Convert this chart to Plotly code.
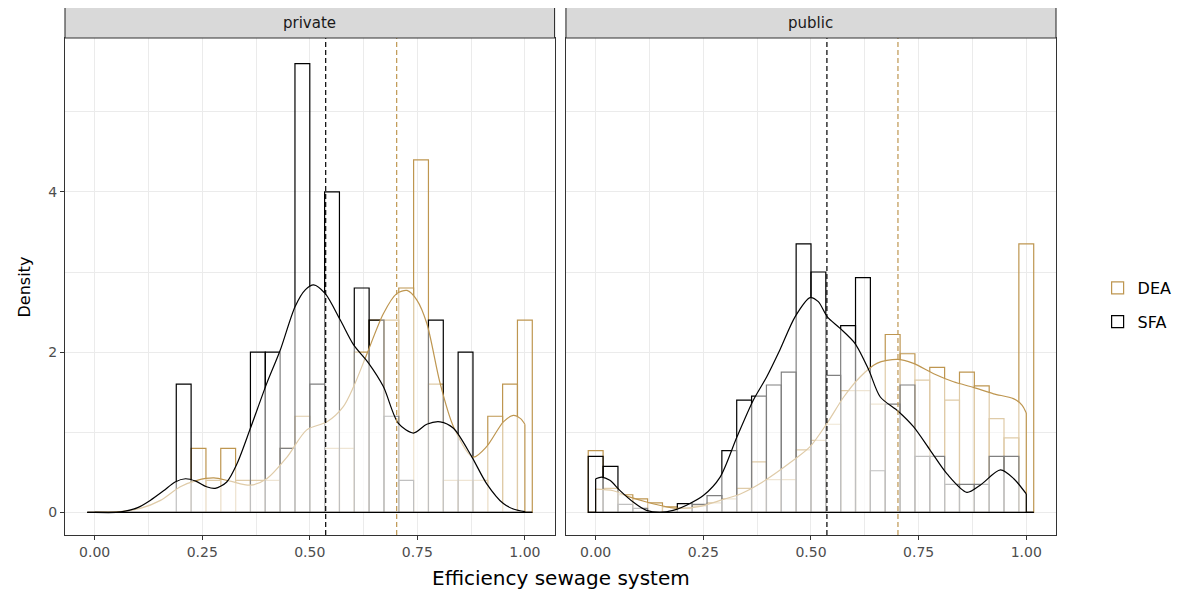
import plotly.graph_objects as go

# ---------------- data ----------------
bin_centers = [0.0, 0.0345, 0.069, 0.1034, 0.1379, 0.1724, 0.2069, 0.2414, 0.2759, 0.3103,
               0.3448, 0.3793, 0.4138, 0.4483, 0.4828, 0.5172, 0.5517, 0.5862, 0.6207, 0.6552,
               0.6897, 0.7241, 0.7586, 0.7931, 0.8276, 0.8621, 0.8966, 0.931, 0.9655, 1.0]
bin_width = 0.0345

private_sfa = [0, 0, 0, 0, 0, 0, 1.6, 0, 0, 0,
               0, 2.0, 2.0, 0.8, 5.6, 1.6, 4.0, 0, 2.8, 2.4,
               1.2, 0.4, 0, 2.4, 0, 2.0, 0, 0, 0, 0]
private_dea = [0, 0, 0, 0, 0, 0, 0, 0.8, 0.4, 0.8,
               0.4, 0.4, 0.4, 0.8, 1.2, 0, 0.8, 0.8, 2.0, 2.4,
               2.4, 2.8, 4.4, 1.6, 0.4, 0.4, 0.4, 1.2, 1.6, 2.4]
public_sfa = [0.70, 0.575, 0.1, 0.05, 0, 0, 0.11, 0.1, 0.21, 0.77,
              1.4, 1.45, 1.59, 1.75, 3.35, 3.0, 1.71, 2.33, 2.93, 0.52,
              1.35, 1.59, 0.7, 0.7, 0.35, 0.35, 0.35, 0.7, 0.7, 0]
public_dea = [0.77, 0.3, 0.22, 0.17, 0.12, 0.07, 0.05, 0.08, 0.12, 0.17,
              0.3, 0.63, 0.41, 0.41, 0.78, 0.9, 1.1, 1.52, 1.52, 1.35,
              2.22, 1.98, 1.65, 1.81, 1.4, 1.75, 1.58, 1.17, 0.93, 3.35]

# kernel density curves
private_sfa_kde_x = [0.0, 0.05, 0.071, 0.1, 0.129, 0.16, 0.187, 0.211, 0.235, 0.26, 0.28, 0.307, 0.331,
                     0.362, 0.40, 0.431, 0.466, 0.49, 0.509, 0.536, 0.571, 0.602, 0.637, 0.671, 0.706,
                     0.741, 0.772, 0.803, 0.834, 0.877, 0.911, 0.95, 0.975, 1.0]
private_sfa_kde_y = [0.0, 0.0, 0.016, 0.06, 0.15, 0.27, 0.38, 0.42, 0.39, 0.32, 0.30, 0.38, 0.61,
                     1.05, 1.61, 2.02, 2.57, 2.78, 2.84, 2.73, 2.40, 2.09, 1.86, 1.57, 1.11,
                     0.99, 1.10, 1.13, 1.05, 0.69, 0.36, 0.11, 0.04, 0.01]
private_dea_kde_x = [0.0, 0.05, 0.106, 0.153, 0.199, 0.238, 0.277, 0.315, 0.362, 0.40, 0.447, 0.493,
                     0.54, 0.578, 0.602, 0.633, 0.671, 0.702, 0.726, 0.749, 0.772, 0.803, 0.834,
                     0.88, 0.911, 0.95, 0.973, 0.99, 1.0]
private_dea_kde_y = [0.0, 0.005, 0.05, 0.15, 0.32, 0.40, 0.43, 0.39, 0.34, 0.42, 0.69, 1.03,
                     1.13, 1.32, 1.57, 1.98, 2.48, 2.73, 2.77, 2.65, 2.36, 1.61, 1.07,
                     0.69, 0.82, 1.13, 1.21, 1.17, 1.10]
public_sfa_kde_x = [0.0, 0.014, 0.033, 0.056, 0.087, 0.118, 0.149, 0.18, 0.211, 0.25, 0.289, 0.328,
                    0.366, 0.397, 0.428, 0.463, 0.498, 0.517, 0.538, 0.567, 0.602, 0.634, 0.661,
                    0.703, 0.738, 0.777, 0.816, 0.862, 0.893, 0.94, 0.971, 1.0]
public_sfa_kde_y = [0.42, 0.44, 0.40, 0.275, 0.13, 0.025, 0.0, 0.025, 0.09, 0.21, 0.44, 0.94,
                    1.40, 1.69, 2.03, 2.44, 2.68, 2.63, 2.44, 2.30, 2.11, 1.78, 1.44,
                    1.26, 1.07, 0.775, 0.48, 0.25, 0.34, 0.53, 0.42, 0.23]
public_dea_kde_x = [0.0, 0.041, 0.08, 0.118, 0.165, 0.196, 0.243, 0.289, 0.336, 0.382, 0.459, 0.498,
                    0.537, 0.576, 0.614, 0.653, 0.70, 0.738, 0.785, 0.831, 0.877, 0.924, 0.97, 0.99, 1.0]
public_dea_kde_y = [0.29, 0.27, 0.19, 0.13, 0.07, 0.05, 0.075, 0.15, 0.23, 0.36, 0.65, 0.82,
                    1.11, 1.44, 1.69, 1.86, 1.91, 1.86, 1.73, 1.63, 1.56, 1.48, 1.42, 1.34, 1.24]

mean_sfa = 0.537
mean_dea = 0.702

panels = ["private", "public"]
x_ticks = [0, 0.25, 0.5, 0.75, 1.0]
x_tick_labels = ["0.00", "0.25", "0.50", "0.75", "1.00"]
y_ticks = [0, 2, 4]

# ---------------- style ----------------
DEA_COL = "rgb(190,150,80)"
SFA_COL = "black"
VEIL = "rgba(255,255,255,0.5)"
FONT = "DejaVu Sans"

fig = go.Figure()

data = {
    "private": dict(sfa=private_sfa, dea=private_dea,
                    sk=(private_sfa_kde_x, private_sfa_kde_y), dk=(private_dea_kde_x, private_dea_kde_y)),
    "public": dict(sfa=public_sfa, dea=public_dea,
                   sk=(public_sfa_kde_x, public_sfa_kde_y), dk=(public_dea_kde_x, public_dea_kde_y)),
}

for i, p in enumerate(panels):
    xa = "x" if i == 0 else "x2"
    ya = "y" if i == 0 else "y2"
    d = data[p]
    for name, vals, col in [("DEA", d["dea"], DEA_COL), ("SFA", d["sfa"], SFA_COL)]:
        fig.add_trace(go.Bar(
            x=bin_centers, y=vals, width=bin_width, xaxis=xa, yaxis=ya,
            marker=dict(color="rgba(0,0,0,0)", line=dict(color=col, width=1.2)),
            name=name, legendgroup=name, showlegend=(i == 0), hoverinfo="skip",
        ))
    for name, (kx, ky), col in [("DEA", d["dk"], DEA_COL), ("SFA", d["sk"], SFA_COL)]:
        fig.add_trace(go.Scatter(
            x=kx, y=ky, xaxis=xa, yaxis=ya, mode="lines",
            line=dict(color=col, width=1.2, shape="spline", smoothing=0.8),
            fill="tozeroy", fillcolor=VEIL, showlegend=False, hoverinfo="skip",
        ))
        fig.add_trace(go.Scatter(
            x=[kx[0], kx[0], None, kx[-1], kx[-1]], y=[0, ky[0], None, ky[-1], 0],
            xaxis=xa, yaxis=ya, mode="lines", line=dict(color=col, width=1.2),
            showlegend=False, hoverinfo="skip",
        ))
    # zero baseline spanning the histogram bins
    fig.add_trace(go.Scatter(
        x=[bin_centers[0] - bin_width / 2, bin_centers[-1] + bin_width / 2], y=[0, 0],
        xaxis=xa, yaxis=ya, mode="lines", line=dict(color="black", width=1.2),
        showlegend=False, hoverinfo="skip",
    ))
    for m, col in [(mean_sfa, SFA_COL), (mean_dea, DEA_COL)]:
        fig.add_shape(type="line", xref=xa, yref=f"{ya} domain", x0=m, x1=m, y0=0, y1=1,
                      line=dict(color=col, width=1.2, dash="5px,3px"), layer="above")

doms = [[0.0, 0.494], [0.5055, 1.0]]
axis_common = dict(
    range=[-0.069, 1.069], tickvals=x_ticks, ticktext=x_tick_labels,
    showgrid=True, gridcolor="#EBEBEB", gridwidth=1.1,
    minor=dict(dtick=0.125, tick0=0, showgrid=True, gridcolor="#EBEBEB", gridwidth=0.6),
    showline=True, linecolor="#333333", linewidth=1.1, mirror=True,
    ticks="outside", ticklen=4, tickcolor="#333333", tickwidth=1,
    tickfont=dict(family=FONT, size=14, color="#4D4D4D"), zeroline=False,
)
fig.update_layout(
    xaxis=dict(domain=doms[0], anchor="y", **axis_common),
    xaxis2=dict(domain=doms[1], anchor="y2", **axis_common),
    yaxis=dict(range=[-0.282, 5.92], tickvals=y_ticks, showgrid=True, gridcolor="#EBEBEB", gridwidth=1.1,
               minor=dict(dtick=1, tick0=0, showgrid=True, gridcolor="#EBEBEB", gridwidth=0.6),
               showline=True, linecolor="#333333", linewidth=1.1, mirror=True,
               ticks="outside", ticklen=4, tickcolor="#333333",
               tickfont=dict(family=FONT, size=14, color="#4D4D4D"), zeroline=False, anchor="x"),
    yaxis2=dict(matches="y", range=[-0.282, 5.92], tickvals=y_ticks, showgrid=True, gridcolor="#EBEBEB",
                gridwidth=1.1,
                minor=dict(dtick=1, tick0=0, showgrid=True, gridcolor="#EBEBEB", gridwidth=0.6),
                showline=True, linecolor="#333333", linewidth=1.1, mirror=True,
                showticklabels=False, ticks="", zeroline=False, anchor="x2"),
    barmode="overlay",
    width=1181, height=583,
    margin=dict(l=57, r=133, t=30, b=56),
    paper_bgcolor="white", plot_bgcolor="white",
    showlegend=True,
    legend=dict(x=1.042, y=0.463, xanchor="left", yanchor="middle",
                font=dict(family=FONT, size=16, color="black"),
                tracegroupgap=10, bgcolor="rgba(0,0,0,0)"),
    font=dict(family=FONT),
)

for i, p in enumerate(panels):
    fig.add_shape(type="rect", xref="paper", yref="paper", x0=doms[i][0], x1=doms[i][1],
                  y0=1.0, y1=1.0624, fillcolor="#D9D9D9", line=dict(color="#333333", width=1.1))
    fig.add_annotation(text=p, xref="paper", yref="paper", x=(doms[i][0] + doms[i][1]) / 2, y=1.031,
                       showarrow=False, xanchor="center", yanchor="middle",
                       font=dict(family=FONT, size=15, color="#1A1A1A"))

fig.add_annotation(text="Efficiency sewage system", xref="paper", yref="paper", x=0.5, y=-0.087,
                   showarrow=False, xanchor="center", yanchor="middle",
                   font=dict(family=FONT, size=20, color="black"))
fig.add_annotation(text="Density", xref="paper", yref="paper", x=-0.0404, y=0.5, textangle=-90,
                   showarrow=False, xanchor="center", yanchor="middle",
                   font=dict(family=FONT, size=16, color="black"))

fig.write_html("out.html")
